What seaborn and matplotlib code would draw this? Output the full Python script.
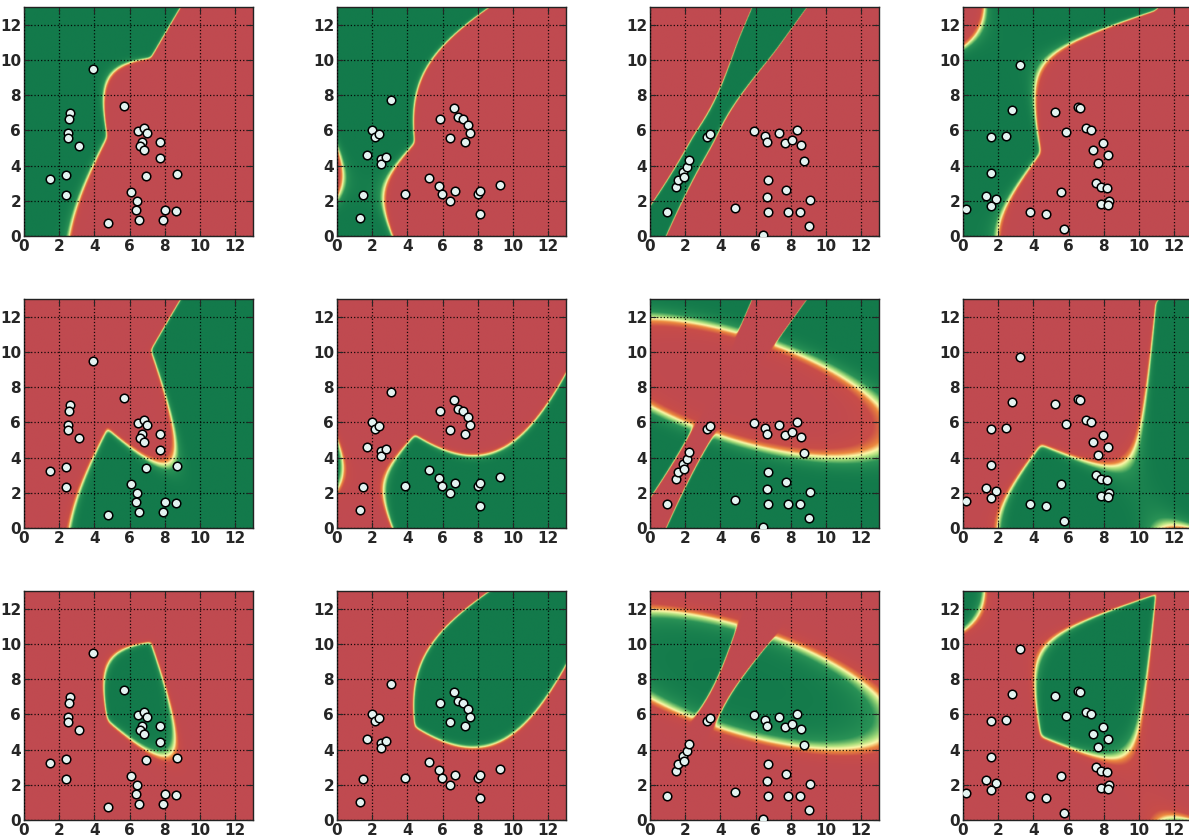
import numpy as np
import matplotlib
matplotlib.use("Agg")
import matplotlib.pyplot as plt
from matplotlib.colors import LinearSegmentedColormap
import seaborn as sns
import pandas as pd

# ---- four two-dimensional datasets, three classes each (0, 1, 2) ----
set1_x = [1.45, 2.37, 2.37, 2.50, 2.49, 2.63, 2.54, 3.10, 3.90,
          6.90, 8.66, 6.05, 6.42, 6.38, 6.51, 7.98, 7.89, 8.65, 4.77,
          6.49, 6.83, 7.01, 6.70, 6.60, 6.79, 7.70, 7.70, 5.66]
set1_y = [3.24, 3.45, 2.32, 5.85, 5.54, 7.00, 6.67, 5.10, 9.50,
          3.39, 3.50, 2.48, 1.96, 1.45, 0.93, 1.49, 0.93, 1.43, 0.76,
          5.94, 6.15, 5.85, 5.33, 5.10, 4.91, 5.33, 4.44, 7.37]
set1_c = [0] * 9 + [1] * 10 + [2] * 9

set2_x = [3.05, 1.99, 2.16, 2.41, 1.69, 2.50, 2.52, 2.81, 1.46, 1.31,
          3.85, 5.24, 5.77, 5.94, 6.41, 6.72, 7.99, 8.12, 8.14, 9.28,
          5.84, 6.64, 6.85, 7.15, 7.44, 7.53, 7.29, 6.39]
set2_y = [7.71, 5.99, 5.63, 5.77, 4.61, 4.35, 4.06, 4.50, 2.31, 1.00,
          2.36, 3.27, 2.85, 2.36, 2.00, 2.53, 2.40, 2.57, 1.27, 2.91,
          6.65, 7.24, 6.75, 6.62, 6.31, 5.86, 5.35, 5.58]
set2_c = [0] * 10 + [1] * 10 + [2] * 8

set3_x = [0.98, 1.45, 1.60, 1.89, 1.91, 2.11, 2.23, 3.25, 3.43,
          4.83, 6.68, 6.64, 6.72, 7.74, 7.85, 8.49, 9.06, 9.00, 6.43,
          5.92, 6.53, 6.66, 7.30, 7.68, 8.04, 8.34, 8.57, 8.72]
set3_y = [1.38, 2.80, 3.16, 3.64, 3.35, 3.90, 4.32, 5.64, 5.80,
          1.59, 3.18, 2.20, 1.38, 2.61, 1.38, 1.38, 2.03, 0.55, 0.04,
          5.98, 5.70, 5.36, 5.85, 5.27, 5.45, 6.04, 5.17, 4.26]
set3_c = [0] * 9 + [1] * 10 + [2] * 9
# class-conditional Gaussians used for classes 1 and 2 of the third set
set3_mean = {1: [10.495, 3.201], 2: [9.527, 4.941]}
set3_cov = {1: [[3.5619, -0.2055], [-0.2055, 0.5869]],
            2: [[1.8696, -0.3152], [-0.3152, 0.3477]]}

set4_x = [0.15, 1.29, 1.90, 1.61, 1.57, 1.61, 2.45, 2.77, 3.23,
          3.81, 4.72, 5.56, 5.75, 7.55, 7.82, 8.16, 7.82, 8.27, 8.24,
          5.22, 5.86, 6.51, 6.64, 6.98, 7.25, 7.38, 7.95, 8.25, 7.67]
set4_y = [1.55, 2.27, 2.10, 1.72, 3.59, 5.63, 5.67, 7.13, 9.72,
          1.38, 1.27, 2.51, 0.38, 3.02, 2.80, 2.70, 1.83, 1.97, 1.78,
          7.03, 5.88, 7.33, 7.24, 6.11, 6.01, 4.91, 5.29, 4.61, 4.14]
set4_c = [0] * 9 + [1] * 10 + [2] * 10

datasets = [(set1_x, set1_y, set1_c, {}, {}),
            (set2_x, set2_y, set2_c, {}, {}),
            (set3_x, set3_y, set3_c, set3_mean, set3_cov),
            (set4_x, set4_y, set4_c, {}, {})]

ticks = [0, 2, 4, 6, 8, 10, 12]
LIM = 13.0
SOFTNESS = 1.6  # temperature applied to the discriminant scores


def gaussian_posteriors(x, y, c, means, covs, gx, gy):
    """Class posteriors of a Gaussian (quadratic) classifier on a grid."""
    x, y, c = np.asarray(x), np.asarray(y), np.asarray(c)
    scores = []
    for k in range(3):
        m = c == k
        pts = np.c_[x[m], y[m]]
        mu = np.asarray(means.get(k, pts.mean(axis=0)), dtype=float)
        cov = np.asarray(covs.get(k, np.cov(pts.T, bias=True)), dtype=float)
        inv = np.linalg.inv(cov)
        d = np.stack([gx - mu[0], gy - mu[1]], axis=-1)
        maha = np.einsum("...i,ij,...j->...", d, inv, d)
        scores.append(-0.5 * maha - 0.5 * np.log(np.linalg.det(cov)) + np.log(m.mean()))
    s = np.stack(scores) / SOFTNESS
    s -= s.max(axis=0)
    p = np.exp(s)
    return p / p.sum(axis=0)


cmap = LinearSegmentedColormap.from_list(
    "redgreen",
    [(0.00, "#c04a50"), (0.25, "#c94d48"), (0.40, "#ec8a3e"),
     (0.50, "#fdf8a8"), (0.60, "#a6dc7a"), (0.75, "#2a9256"),
     (1.00, "#137a4b")])

sns.set_style("ticks")
plt.rcParams["font.family"] = ["DejaVu Sans"]

W, H = 1189, 839
fig = plt.figure(figsize=(W / 100, H / 100), dpi=100)

lefts = [24, 337, 650, 963]
tops = [7, 299, 591]
size = 229

g = np.linspace(0, LIM, 400)
gx, gy = np.meshgrid(g, g)

for col, (xs, ys, cs, means, covs) in enumerate(datasets):
    post = gaussian_posteriors(xs, ys, cs, means, covs, gx, gy)
    pts = pd.DataFrame({"x": xs, "y": ys})
    for row in range(3):
        ax = fig.add_axes([lefts[col] / W, 1 - (tops[row] + size) / H, size / W, size / H])
        ax.imshow(post[row], origin="lower", extent=[0, LIM, 0, LIM], cmap=cmap,
                  vmin=0, vmax=1, interpolation="bilinear", aspect="auto", zorder=0)
        ax.grid(True, color="k", linestyle=":", linewidth=0.9, alpha=0.9, zorder=1)
        ax.set_axisbelow(False)
        sns.scatterplot(data=pts, x="x", y="y", ax=ax, color="#e4f3f1", edgecolor="black",
                        linewidth=1.1, s=38, legend=False, zorder=3)
        ax.set_xlim(0, LIM)
        ax.set_ylim(0, LIM)
        ax.set_xticks(ticks)
        ax.set_yticks(ticks)
        ax.set_xlabel("")
        ax.set_ylabel("")
        ax.tick_params(direction="in", top=True, right=True, length=4, width=0.8,
                       labelsize=11, pad=2)
        for lab in ax.get_xticklabels() + ax.get_yticklabels():
            lab.set_fontweight("bold")
        for sp in ax.spines.values():
            sp.set_color("#222222")
            sp.set_linewidth(1.0)

fig.savefig("out.png", dpi=100)
